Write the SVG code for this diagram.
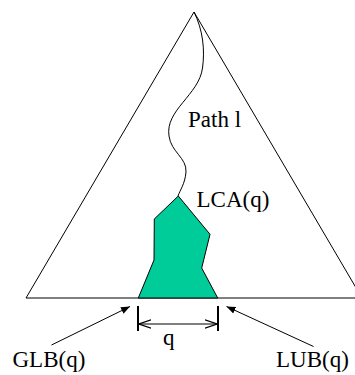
<svg xmlns="http://www.w3.org/2000/svg" width="355" height="375" viewBox="0 0 355 375">
<style>
.ln{fill:none;stroke:#000;stroke-width:1}
text{font-family:'Liberation Serif','Times New Roman',Times,serif;font-size:23px;fill:#000}
</style>
<defs>
<marker id="solid" viewBox="0 0 10 10" refX="10" refY="5" markerWidth="9" markerHeight="9" markerUnits="userSpaceOnUse" orient="auto">
<path d="M0,1 L10,5 L0,9 Z" fill="#000"/>
</marker>
<marker id="open" viewBox="0 0 10 10" refX="10" refY="5" markerWidth="12" markerHeight="12" markerUnits="userSpaceOnUse" orient="auto-start-reverse">
<path d="M0,1.5 L10,5 L0,8.5" fill="none" stroke="#000" stroke-width="1"/>
</marker>
</defs>
<g id="tree">
<polyline class="ln" points="26,298 194,12 362,298"/>
<line class="ln" x1="26" y1="298" x2="355" y2="298"/>
</g>
<g id="path-l">
<path class="ln" d="M194,12 C203,30 205,50 202.5,68 C199,95 165,110 169,136 C171,152 187,158 186,172 C185,184 180,190 178,196"/>
<text x="188" y="127" font-family="Liberation Serif, serif">Path l</text>
</g>
<g id="lca-region">
<polygon points="178.3,196 154.3,219 154,260 138.3,298 217.7,298 201.7,268 210,234.3" fill="#00CC99" stroke="#000" stroke-width="1"/>
<text x="196.5" y="207" font-family="Liberation Serif, serif">LCA(q)</text>
</g>
<g id="q-dim">
<line x1="138" y1="306" x2="138" y2="331" stroke="#000" stroke-width="2"/>
<line x1="218" y1="306" x2="218" y2="331" stroke="#000" stroke-width="2"/>
<text x="163" y="345" font-family="Liberation Serif, serif">q</text>
</g>
<g id="glb">
<text x="12.5" y="367" font-family="Liberation Serif, serif">GLB(q)</text>
</g>
<g id="lub">
<text x="276" y="367" font-family="Liberation Serif, serif">LUB(q)</text>
</g>
<g id="connectors">
<line class="ln" x1="139" y1="324" x2="217" y2="324" marker-start="url(#open)" marker-end="url(#open)"/>
<line class="ln" x1="51.5" y1="345" x2="130" y2="306.5" marker-end="url(#solid)"/>
<line class="ln" x1="313.5" y1="346.5" x2="226.5" y2="306.5" marker-end="url(#solid)"/>
</g>
</svg>
